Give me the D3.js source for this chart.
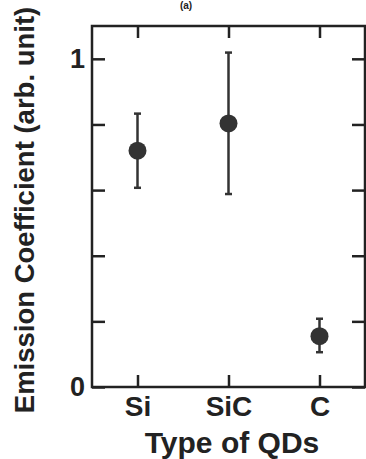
<!DOCTYPE html>
<html>
<head>
<meta charset="utf-8">
<script src="https://cdn.jsdelivr.net/npm/d3@7"></script>
<style>
  body { margin: 0; background: #fff; }
  svg { display: block; font-family: "Liberation Sans", Arial, sans-serif; }
</style>
</head>
<body>
<script>
// data
const categories = ['Si', 'SiC', 'C']
const values = [0.72, 0.803, 0.155]
const errLow = [0.607, 0.588, 0.106]
const errHigh = [0.833, 1.019, 0.208]
const yTicks = [0, 0.2, 0.4, 0.6, 0.8, 1]

const W = 366, H = 459
const margin = { top: 26, right: 1, bottom: 72, left: 92 }
const width = W - margin.left - margin.right
const height = H - margin.top - margin.bottom
const ink = '#222'

const svg = d3.select('body').append('svg')
  .attr('width', W)
  .attr('height', H)

const g = svg.append('g')
  .attr('transform', 'translate(' + margin.left + ',' + margin.top + ')')

const x = d3.scalePoint().domain(categories).range([0, width]).padding(0.5)
const y = d3.scaleLinear().domain([0, 1.1]).range([height, 0])

// frame
g.append('rect')
  .attr('width', width)
  .attr('height', height)
  .attr('fill', 'none')
  .attr('stroke', ink)
  .attr('stroke-width', 2.5)

const styleAxis = (sel) => {
  sel.select('.domain').remove()
  sel.selectAll('.tick line').attr('stroke', ink).attr('stroke-width', 2.5)
  sel.selectAll('.tick text').attr('fill', ink).attr('font-weight', 'bold')
}

g.append('g')
  .call(d3.axisLeft(y).tickValues(yTicks).tickSize(-13).tickPadding(7)
    .tickFormat((d) => (d === 0 || d === 1) ? d3.format('d')(d) : ''))
  .call(styleAxis)
  .selectAll('.tick text').attr('font-size', 27)

g.append('g')
  .attr('transform', 'translate(' + width + ',0)')
  .call(d3.axisRight(y).tickValues(yTicks).tickSize(-13).tickFormat(''))
  .call(styleAxis)

g.append('g')
  .attr('transform', 'translate(0,' + height + ')')
  .call(d3.axisBottom(x).tickSize(-12).tickPadding(9))
  .call(styleAxis)
  .selectAll('.tick text').attr('font-size', 28)

g.append('g')
  .call(d3.axisTop(x).tickSize(-12).tickFormat(''))
  .call(styleAxis)

// error bars
const pts = categories.map((c, i) => ({ c, v: values[i], lo: errLow[i], hi: errHigh[i] }))

const eb = g.selectAll('.err').data(pts).enter().append('g').attr('class', 'err')
  .attr('stroke', '#333').attr('stroke-width', 2.5)
eb.append('line')
  .attr('x1', (d) => x(d.c)).attr('x2', (d) => x(d.c))
  .attr('y1', (d) => y(d.lo)).attr('y2', (d) => y(d.hi))
eb.append('line')
  .attr('x1', (d) => x(d.c) - 3.5).attr('x2', (d) => x(d.c) + 3.5)
  .attr('y1', (d) => y(d.lo)).attr('y2', (d) => y(d.lo))
eb.append('line')
  .attr('x1', (d) => x(d.c) - 3.5).attr('x2', (d) => x(d.c) + 3.5)
  .attr('y1', (d) => y(d.hi)).attr('y2', (d) => y(d.hi))

g.selectAll('.dot').data(pts).enter().append('circle')
  .attr('class', 'dot')
  .attr('cx', (d) => x(d.c))
  .attr('cy', (d) => y(d.v))
  .attr('r', 9)
  .attr('fill', '#333')

// titles
svg.append('text')
  .attr('x', 232)
  .attr('y', H - 6)
  .attr('text-anchor', 'middle')
  .attr('font-size', 30)
  .attr('font-weight', 'bold')
  .attr('fill', ink)
  .text('Type of QDs')

svg.append('text')
  .attr('transform', 'translate(34,210) rotate(-90)')
  .attr('text-anchor', 'middle')
  .attr('font-size', 27.5)
  .attr('font-weight', 'bold')
  .attr('fill', ink)
  .text('Emission Coefficient (arb. unit)')

// panel label, mostly off the top in the source; kept small so it stays visible
svg.append('text')
  .attr('x', 186)
  .attr('y', 9)
  .attr('text-anchor', 'middle')
  .attr('font-size', 10)
  .attr('font-weight', 'bold')
  .attr('fill', ink)
  .text('(a)')
</script>
</body>
</html>
